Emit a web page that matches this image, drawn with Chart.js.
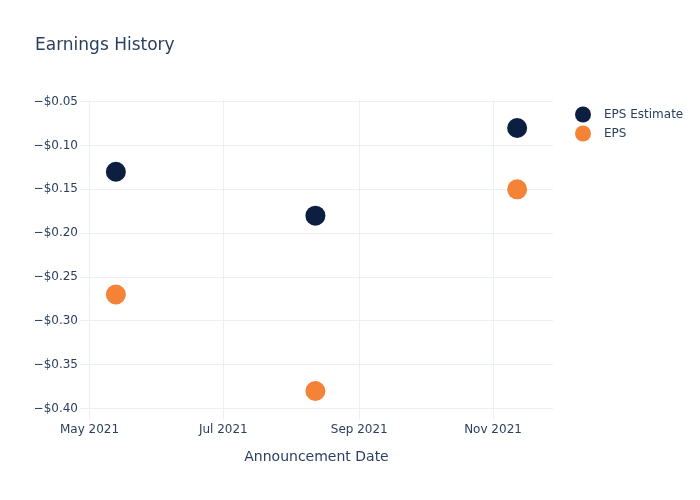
<!DOCTYPE html>
<html>
<head>
<meta charset="utf-8">
<script src="https://cdn.jsdelivr.net/npm/chart.js@4.4.1/dist/chart.umd.min.js"></script>
<style>
  html, body { margin: 0; padding: 0; background: #ffffff; }
  #wrap { width: 700px; height: 500px; }
</style>
</head>
<body>
<div id="wrap"><canvas id="c" width="700" height="500"></canvas></div>
<script>
// ---- Data ----
const announcementDates = ['2021-05-13', '2021-08-12', '2021-11-12'];
const epsEstimate = [-0.13, -0.18, -0.08];
const epsActual = [-0.27, -0.38, -0.15];
const seriesLabels = ['EPS Estimate', 'EPS'];
const xTickDates = ['2021-05-01', '2021-07-01', '2021-09-01', '2021-11-01'];
const xTickLabels = ['May 2021', 'Jul 2021', 'Sep 2021', 'Nov 2021'];
const yTickValues = [-0.40, -0.35, -0.30, -0.25, -0.20, -0.15, -0.10, -0.05];

// ---- Styles ----
const TEXT = '#2a3f5f';
const GRID = '#ebf0f8';
const NAVY = '#0c1f40';
const ORANGE = '#f58337';
const FONT = "'DejaVu Sans', sans-serif";

const toMs = d => Date.parse(d + 'T00:00:00Z');
const DAY = 86400000;

const legendPlugin = {
  id: 'sideLegend',
  afterDraw(chart) {
    const ctx = chart.ctx;
    ctx.save();
    chart.data.datasets.forEach((ds, i) => {
      const y = 114.5 + i * 19;
      ctx.beginPath();
      ctx.fillStyle = ds.backgroundColor;
      ctx.arc(583, y, 8, 0, Math.PI * 2);
      ctx.fill();
      ctx.fillStyle = TEXT;
      ctx.font = '12px ' + FONT;
      ctx.textBaseline = 'middle';
      ctx.textAlign = 'left';
      ctx.fillText(ds.label, 604, y);
    });
    ctx.restore();
  }
};

new Chart(document.getElementById('c'), {
  type: 'scatter',
  data: {
    datasets: [
      {
        label: seriesLabels[0],
        data: announcementDates.map((d, i) => ({ x: toMs(d), y: epsEstimate[i] })),
        backgroundColor: NAVY,
        borderColor: NAVY,
        borderWidth: 0,
        pointRadius: 10,
        pointHoverRadius: 10
      },
      {
        label: seriesLabels[1],
        data: announcementDates.map((d, i) => ({ x: toMs(d), y: epsActual[i] })),
        backgroundColor: ORANGE,
        borderColor: ORANGE,
        borderWidth: 0,
        pointRadius: 10,
        pointHoverRadius: 10
      }
    ]
  },
  options: {
    responsive: false,
    animation: false,
    layout: { padding: { left: 35, right: 147, top: 0, bottom: 0 } },
    plugins: {
      legend: { display: false },
      tooltip: { enabled: false },
      title: {
        display: true,
        text: 'Earnings History',
        align: 'start',
        color: TEXT,
        font: { family: FONT, size: 17, weight: 'normal' },
        padding: { top: 35.3, bottom: 44.3 }
      }
    },
    scales: {
      x: {
        type: 'linear',
        min: toMs('2021-04-26') + 0.65 * DAY,
        max: toMs('2021-11-28') + 0.35 * DAY,
        afterFit: s => { s.height = 80; },
        afterBuildTicks: s => { s.ticks = xTickDates.map(d => ({ value: toMs(d) })); },
        border: { display: false },
        grid: { color: GRID, drawTicks: false, lineWidth: 1 },
        ticks: {
          color: TEXT,
          font: { family: FONT, size: 12 },
          padding: 2.5,
          maxRotation: 0,
          autoSkip: false,
          callback: (v) => {
            const idx = xTickDates.findIndex(d => toMs(d) === v);
            return idx >= 0 ? xTickLabels[idx] : '';
          }
        },
        title: {
          display: true,
          text: 'Announcement Date',
          color: TEXT,
          font: { family: FONT, size: 14 },
          padding: { top: 0, bottom: 34.6 }
        }
      },
      y: {
        type: 'linear',
        min: -0.4131,
        max: -0.0481,
        afterFit: s => { s.width = 45; },
        afterBuildTicks: s => { s.ticks = yTickValues.map(v => ({ value: v })); },
        border: { display: false },
        grid: { color: GRID, drawTicks: false, lineWidth: 1 },
        ticks: {
          color: TEXT,
          font: { family: FONT, size: 12 },
          padding: 2,
          autoSkip: false,
          callback: v => '\u2212$' + Math.abs(v).toFixed(2)
        }
      }
    }
  },
  plugins: [legendPlugin]
});
</script>
</body>
</html>
